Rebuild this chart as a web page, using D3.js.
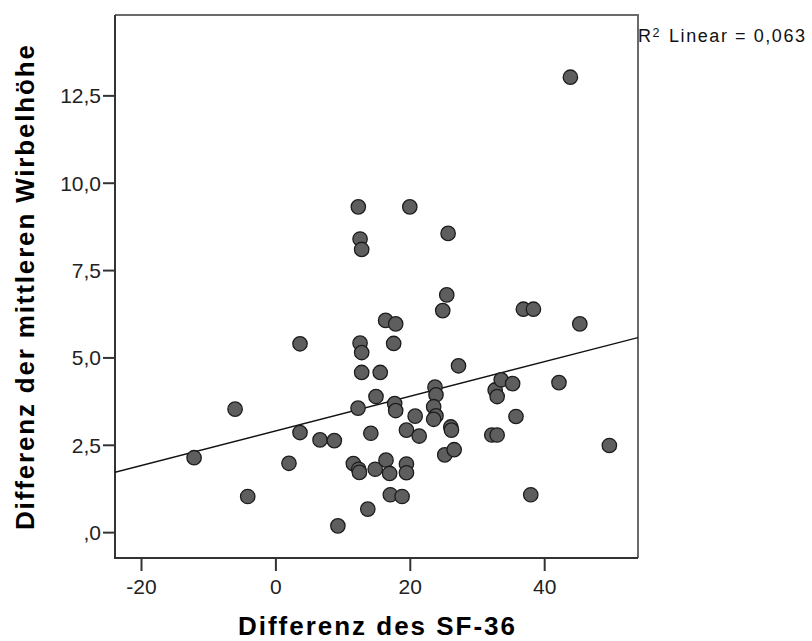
<!DOCTYPE html>
<html>
<head>
<meta charset="utf-8">
<script src="https://cdn.jsdelivr.net/npm/d3@7"></script>
<style>
  html, body { margin: 0; padding: 0; background: #fff; }
  svg { display: block; }
  text { font-family: "Liberation Sans", Arial, sans-serif; }
</style>
</head>
<body>
<svg id="chart" width="812" height="641"></svg>
<script>
// ---- data ----
const xValues = [43.9, 12.34, 20.0, 12.6, 12.84, 25.7, 25.5, 24.9, 36.9, 38.4,
  45.3, 16.4, 17.9, 3.66, 12.6, 12.84, 17.6, 12.84, 15.6, 27.25,
  14.97, 12.3, 17.75, 17.9, 23.75, 23.9, 23.55, 23.9, 23.55, 20.8,
  26.1, 26.2, 32.7, 33.0, 33.6, 35.3, 42.2, 35.8, 32.2, 33.0,
  49.7, 25.2, 26.6, -6.0, 3.66, 6.64, 8.77, -12.1, 2.02, -4.12,
  9.3, 13.75, 11.6, 12.4, 12.5, 14.85, 16.46, 17.0, 17.1, 18.85,
  19.5, 19.5, 14.2, 19.5, 21.4, 38.0];
const yValues = [13.02, 9.31, 9.31, 8.39, 8.09, 8.55, 6.79, 6.34, 6.38, 6.38,
  5.96, 6.06, 5.96, 5.39, 5.41, 5.14, 5.40, 4.57, 4.57, 4.76,
  3.88, 3.55, 3.68, 3.48, 4.15, 3.93, 3.59, 3.33, 3.23, 3.32,
  3.01, 2.92, 4.07, 3.88, 4.36, 4.25, 4.28, 3.31, 2.78, 2.78,
  2.48, 2.21, 2.36, 3.52, 2.85, 2.64, 2.62, 2.13, 1.97, 1.02,
  0.18, 0.66, 1.96, 1.80, 1.71, 1.80, 2.06, 1.68, 1.07, 1.02,
  1.95, 1.70, 2.83, 2.92, 2.75, 1.07];
const xTicks = [-20, 0, 20, 40];
const xTickLabels = ["-20", "0", "20", "40"];
const yTicks = [0, 2.5, 5, 7.5, 10, 12.5];
const yTickLabels = [",0", "2,5", "5,0", "7,5", "10,0", "12,5"];
const fitLine = [2.897, 0.0495];          // intercept, slope of the linear fit
const xDomain = [-23.87, 53.96];
const yDomain = [-0.74, 14.8];
const xTitle = "Differenz des SF-36";
const yTitle = "Differenz der mittleren Wirbelhöhe";
const r2Label = ["R", "2", "Linear = 0,063"];

// ---- layout ----
const L = 115, R = 638, T = 15, B = 558;
const svg = d3.select("#chart");
const x = d3.scaleLinear().domain(xDomain).range([L, R]);
const y = d3.scaleLinear().domain(yDomain).range([B, T]);

// frame top/right
svg.append("path")
  .attr("d", `M${L},${T}H${R}V${B}`)
  .attr("fill", "none").attr("stroke", "#6a6a6a").attr("stroke-width", 2);

// axes
const yAxis = svg.append("g").attr("transform", `translate(${L},0)`)
  .call(d3.axisLeft(y).tickValues(yTicks)
    .tickFormat((d, i) => yTickLabels[i]).tickSize(12).tickPadding(2));
const xAxis = svg.append("g").attr("transform", `translate(0,${B})`)
  .call(d3.axisBottom(x).tickValues(xTicks)
    .tickFormat((d, i) => xTickLabels[i]).tickSize(13).tickPadding(6));
[xAxis, yAxis].forEach(g => {
  g.select(".domain").remove();
  g.selectAll(".tick line").attr("stroke", "#333").attr("stroke-width", 2);
  g.selectAll(".tick text").attr("fill", "#222")
    .style("font-size", "21px").style("font-family", "'Liberation Sans', Arial, sans-serif");
});
xAxis.selectAll(".tick text").attr("dy", "0").attr("y", 36);
yAxis.selectAll(".tick text").attr("dy", "0.36em");

// left & bottom axis lines
svg.append("path")
  .attr("d", `M${L},${T}V${B}H${R}`)
  .attr("fill", "none").attr("stroke", "#333").attr("stroke-width", 2);

// plot clip
svg.append("clipPath").attr("id", "clip")
  .append("rect").attr("x", L).attr("y", T).attr("width", R - L).attr("height", B - T);

// regression line
svg.append("line")
  .attr("clip-path", "url(#clip)")
  .attr("x1", x(xDomain[0])).attr("y1", y(fitLine[0] + fitLine[1] * xDomain[0]))
  .attr("x2", x(xDomain[1])).attr("y2", y(fitLine[0] + fitLine[1] * xDomain[1]))
  .attr("stroke", "#111").attr("stroke-width", 1.4);

// points
svg.append("g").selectAll("circle")
  .data(xValues.map((v, i) => [v, yValues[i]]))
  .join("circle")
  .attr("cx", d => x(d[0])).attr("cy", d => y(d[1]))
  .attr("r", 7.2)
  .attr("fill", "#5e5e5e").attr("stroke", "#1c1c1c").attr("stroke-width", 1.3);

// titles
svg.append("text")
  .attr("x", (L + R) / 2).attr("y", 635)
  .attr("text-anchor", "middle")
  .attr("textLength", 277).attr("lengthAdjust", "spacing")
  .style("font-size", "26px").style("font-weight", "bold").attr("fill", "#000")
  .text(xTitle);

svg.append("text")
  .attr("transform", `translate(34,${(T + B) / 2 + 1}) rotate(-90)`)
  .attr("text-anchor", "middle")
  .attr("textLength", 485).attr("lengthAdjust", "spacing")
  .style("font-size", "26px").style("font-weight", "bold").attr("fill", "#000")
  .text(yTitle);

// R² label
const rl = svg.append("g").attr("fill", "#111");
rl.append("text").attr("x", 638).attr("y", 42).style("font-size", "18px").text(r2Label[0]);
rl.append("text").attr("x", 652.5).attr("y", 36.5).style("font-size", "12.5px").text(r2Label[1]);
rl.append("text").attr("x", 669).attr("y", 42).style("font-size", "18px")
  .attr("textLength", 136).attr("lengthAdjust", "spacing").text(r2Label[2]);
</script>
</body>
</html>
